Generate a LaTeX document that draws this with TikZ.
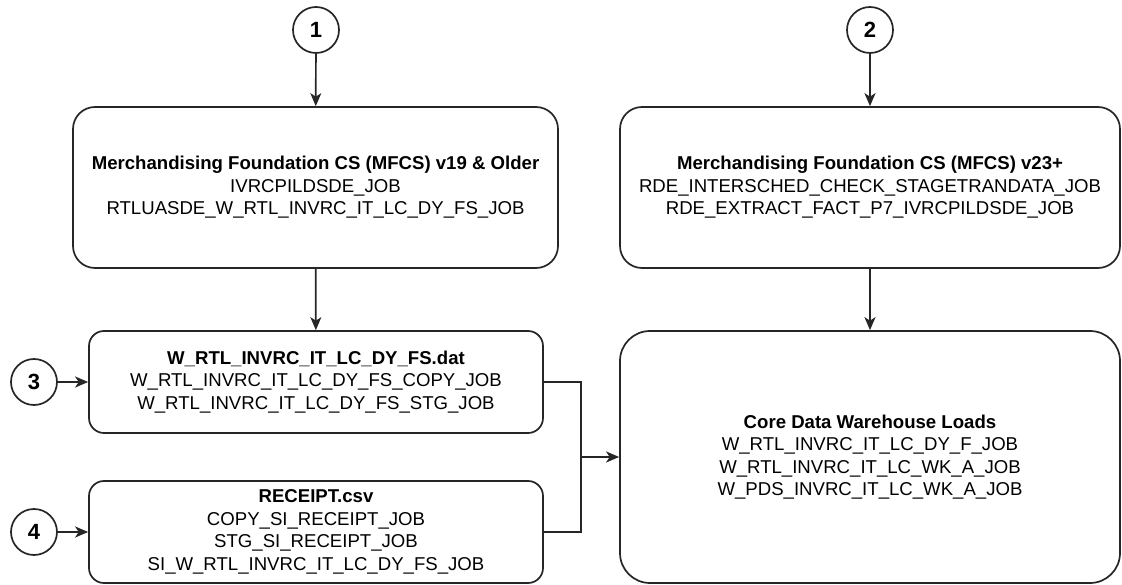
\documentclass[tikz,border=0pt]{standalone}
\usepackage{fontspec}
\setmainfont{Liberation Sans}
\usetikzlibrary{arrows.meta}
\colorlet{ln}{black!85}
\begin{document}
\begin{tikzpicture}[x=1pt,y=-1pt,>={Stealth[length=13pt,width=11pt,inset=3.5pt]},line width=1.7pt,
    job/.style={draw=ln,rounded corners=#1,align=center,inner sep=0pt,font=\fontsize{18.6}{22.5}\selectfont},
    num/.style={draw=ln,circle,minimum size=46pt,inner sep=0pt,font=\fontsize{22}{22}\selectfont\bfseries}]
      \def\lcol{316}
      \def\rcol{870}
      \useasboundingbox (0,0) rectangle (1122,585);
      % sources
      \node[num] (n1) at (\lcol,30) {1};
      \node[num] (n2) at (\rcol,30) {2};
      \node[num] (n3) at (34,382) {3};
      \node[num] (n4) at (34,532) {4};
      % jobs
      \node[job=22pt,minimum width=485pt,minimum height=161pt] (mfold) at (315.5,187.5) {\textbf{Merchandising Foundation CS (MFCS) v19 \& Older}\\IVRCPILDSDE\_JOB\\RTLUASDE\_W\_RTL\_INVRC\_IT\_LC\_DY\_FS\_JOB};
      \node[job=22pt,minimum width=500pt,minimum height=161pt] (mfnew) at (\rcol,187.5) {\textbf{Merchandising Foundation CS (MFCS) v23+}\\RDE\_INTERSCHED\_CHECK\_STAGETRANDATA\_JOB\\RDE\_EXTRACT\_FACT\_P7\_IVRCPILDSDE\_JOB};
      \node[job=15pt,minimum width=454pt,minimum height=102pt] (dat) at (\lcol,382) {\textbf{W\_RTL\_INVRC\_IT\_LC\_DY\_FS.dat}\\W\_RTL\_INVRC\_IT\_LC\_DY\_FS\_COPY\_JOB\\W\_RTL\_INVRC\_IT\_LC\_DY\_FS\_STG\_JOB};
      \node[job=15pt,minimum width=454pt,minimum height=102pt] (csv) at (\lcol,532) {\textbf{RECEIPT.csv}\\COPY\_SI\_RECEIPT\_JOB\\STG\_SI\_RECEIPT\_JOB\\SI\_W\_RTL\_INVRC\_IT\_LC\_DY\_FS\_JOB};
      \node[job=30pt,minimum width=500pt,minimum height=252pt] (dw) at (\rcol,457) {\textbf{Core Data Warehouse Loads}\\W\_RTL\_INVRC\_IT\_LC\_DY\_F\_JOB\\W\_RTL\_INVRC\_IT\_LC\_WK\_A\_JOB\\W\_PDS\_INVRC\_IT\_LC\_WK\_A\_JOB};
      \coordinate (mrg) at (581,457);
      % flows
      \draw[ln,->] (n1) -- (mfold);
      \draw[ln,->] (n2) -- (mfnew);
      \draw[ln,->] (mfold) -- (dat);
      \draw[ln,->] (mfnew) -- (dw);
      \draw[ln,->] (n3) -- (dat);
      \draw[ln,->] (n4) -- (csv);
      \draw[ln] (dat.east) -| (mrg) |- (csv.east);
      \draw[ln,->] (mrg) -- (dw.west);
    \end{tikzpicture}
\end{document}
